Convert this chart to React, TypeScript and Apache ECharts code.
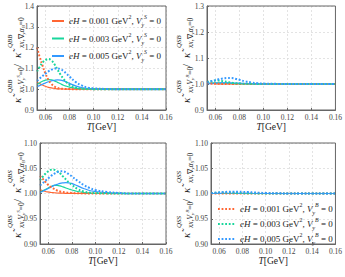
import React, { useEffect, useRef } from "react";
import * as echarts from "echarts";

// Temperature grid (GeV)
const T = [0.053, 0.055, 0.0575, 0.06, 0.0625, 0.065, 0.0675, 0.07, 0.0725, 0.075, 0.0775, 0.08, 0.085, 0.09, 0.095, 0.1, 0.11, 0.12, 0.13, 0.14, 0.15, 0.16];
const X_TICKS = [0.06, 0.08, 0.1, 0.12, 0.14, 0.16];
const EH = ["0.001", "0.003", "0.005"];

// Top-left: QBB
const qbbSolid001 = [1.033, 1.027, 1.02, 1.014, 1.009, 1.006, 1.004, 1.002, 1.0015, 1.001, 1.0005, 1.0003, 1.0001, 1, 1, 1, 1, 1, 1, 1, 1, 1];
const qbbSolid003 = [1.022, 1.03, 1.038, 1.044, 1.046, 1.045, 1.04, 1.033, 1.026, 1.019, 1.014, 1.01, 1.004, 1.0015, 1.0005, 1.0002, 1, 1, 1, 1, 1, 1];
const qbbSolid005 = [1.012, 1.017, 1.024, 1.03, 1.036, 1.04, 1.043, 1.045, 1.044, 1.04, 1.034, 1.028, 1.016, 1.008, 1.004, 1.002, 1.0005, 1, 1, 1, 1, 1];
const qbbDot001 = [1.2, 1.16, 1.115, 1.075, 1.045, 1.025, 1.013, 1.006, 1.003, 1.0015, 1.001, 1.0005, 1.0002, 1, 1, 1, 1, 1, 1, 1, 1, 1];
const qbbDot003 = [1.085, 1.105, 1.127, 1.14, 1.145, 1.138, 1.12, 1.095, 1.07, 1.05, 1.033, 1.021, 1.008, 1.003, 1.001, 1.0003, 1, 1, 1, 1, 1, 1];
const qbbDot005 = [1.04, 1.05, 1.063, 1.075, 1.086, 1.094, 1.099, 1.1, 1.096, 1.087, 1.074, 1.06, 1.035, 1.018, 1.008, 1.004, 1.001, 1, 1, 1, 1, 1];

// Top-right: QSB
const qsbSolid001 = [1.003, 1.002, 1.0015, 1.001, 1.0005, 1.0003, 1.0002, 1.0001, 1, 1, 1, 1, 1, 1, 1, 1, 1, 1, 1, 1, 1, 1];
const qsbSolid003 = [1.002, 1.003, 1.004, 1.0045, 1.0045, 1.004, 1.0035, 1.003, 1.0025, 1.002, 1.0015, 1.001, 1.0005, 1.0002, 1, 1, 1, 1, 1, 1, 1, 1];
const qsbSolid005 = [1.001, 1.0015, 1.002, 1.003, 1.0035, 1.004, 1.0045, 1.0045, 1.0045, 1.004, 1.0035, 1.003, 1.002, 1.001, 1.0005, 1.0002, 1, 1, 1, 1, 1, 1];
const qsbDot001 = [1.006, 1.004, 1.002, 1.001, 1.0005, 1.0002, 1, 1, 1, 1, 1, 1, 1, 1, 1, 1, 1, 1, 1, 1, 1, 1];
const qsbDot003 = [1.008, 1.01, 1.012, 1.013, 1.013, 1.012, 1.01, 1.008, 1.006, 1.004, 1.003, 1.002, 1.001, 1.0005, 1.0002, 1, 1, 1, 1, 1, 1, 1];
const qsbDot005 = [1.006, 1.009, 1.012, 1.015, 1.018, 1.02, 1.022, 1.023, 1.023, 1.022, 1.019, 1.016, 1.01, 1.006, 1.003, 1.0015, 1.0005, 1, 1, 1, 1, 1];

// Bottom-left: QBS
const qbsSolid001 = [1.007, 1.006, 1.004, 1.003, 1.002, 1.0015, 1.001, 1.0008, 1.0005, 1.0003, 1.0002, 1.0001, 1, 1, 1, 1, 1, 1, 1, 1, 1, 1];
const qbsSolid003 = [1.003, 1.005, 1.008, 1.011, 1.014, 1.016, 1.016, 1.015, 1.013, 1.011, 1.009, 1.007, 1.004, 1.002, 1.001, 1.0003, 1, 1, 1, 1, 1, 1];
const qbsSolid005 = [1.002, 1.004, 1.007, 1.01, 1.013, 1.016, 1.018, 1.02, 1.021, 1.0215, 1.021, 1.02, 1.015, 1.01, 1.006, 1.004, 1.0015, 1.0005, 1, 1, 1, 1];
const qbsDot001 = [1.035, 1.03, 1.023, 1.017, 1.012, 1.009, 1.006, 1.004, 1.003, 1.002, 1.0015, 1.001, 1.0005, 1.0002, 1, 1, 1, 1, 1, 1, 1, 1];
const qbsDot003 = [1.026, 1.032, 1.039, 1.044, 1.047, 1.047, 1.044, 1.04, 1.034, 1.028, 1.022, 1.017, 1.009, 1.004, 1.002, 1.001, 1.0003, 1, 1, 1, 1, 1];
const qbsDot005 = [1.016, 1.02, 1.025, 1.03, 1.035, 1.039, 1.042, 1.044, 1.044, 1.042, 1.038, 1.034, 1.025, 1.017, 1.011, 1.007, 1.003, 1.001, 1, 1, 1, 1];

// Bottom-right: QSS
const qssSolid001 = [1, 1, 1, 1, 1, 1, 1, 1, 1, 1, 1, 1, 1, 1, 1, 1, 1, 1, 1, 1, 1, 1];
const qssSolid003 = [1, 1, 1, 1, 1, 1, 1, 1, 1, 1, 1, 1, 1, 1, 1, 1, 1, 1, 1, 1, 1, 1];
const qssSolid005 = [1, 1, 1.0002, 1.0003, 1.0004, 1.0005, 1.0005, 1.0005, 1.0005, 1.0004, 1.0003, 1.0002, 1.0001, 1, 1, 1, 1, 1, 1, 1, 1, 1];
const qssDot001 = [1, 1, 1, 1, 1, 1, 1, 1, 1, 1, 1, 1, 1, 1, 1, 1, 1, 1, 1, 1, 1, 1];
const qssDot003 = [1.001, 1.0012, 1.0015, 1.0018, 1.002, 1.002, 1.002, 1.0018, 1.0015, 1.0012, 1.001, 1.0008, 1.0005, 1.0003, 1.0001, 1, 1, 1, 1, 1, 1, 1];
const qssDot005 = [1.0005, 1.001, 1.0015, 1.002, 1.0025, 1.003, 1.0033, 1.0035, 1.0036, 1.0036, 1.0035, 1.0033, 1.0028, 1.002, 1.0014, 1.001, 1.0004, 1.0001, 1, 1, 1, 1];

const COLORS = ["#ff6633", "#19d69c", "#3399ff"];
const SERIF = "Liberation Serif";

const PANELS = [
  { sup: "QBB", alpha: "B", solid: [qbbSolid001, qbbSolid003, qbbSolid005], dot: [qbbDot001, qbbDot003, qbbDot005], min: 0.9, max: 1.4, interval: 0.1, dec: 1, grid: { left: 37, top: 6, width: 129, height: 104 }, nameX: 17, nameY: 105 },
  { sup: "QSB", alpha: "S", solid: [qsbSolid001, qsbSolid003, qsbSolid005], dot: [qsbDot001, qsbDot003, qsbDot005], min: 0.9, max: 1.3, interval: 0.1, dec: 1, grid: { left: 207, top: 6, width: 129, height: 104 }, nameX: 186, nameY: 105 },
  { sup: "QBS", alpha: "B", solid: [qbsSolid001, qbsSolid003, qbsSolid005], dot: [qbsDot001, qbsDot003, qbsDot005], min: 0.9, max: 1.1, interval: 0.05, dec: 2, grid: { left: 40, top: 143, width: 126, height: 101 }, nameX: 17, nameY: 240 },
  { sup: "QSS", alpha: "S", solid: [qssSolid001, qssSolid003, qssSolid005], dot: [qssDot001, qssDot003, qssDot005], min: 0.9, max: 1.1, interval: 0.05, dec: 2, grid: { left: 211, top: 143, width: 125, height: 101 }, nameX: 186, nameY: 240 },
];

const solidName = (e: string) => `eH = ${e} GeV², V_y^S = 0`;
const dotName = (e: string) => `eH = ${e} GeV², V_y^B = 0`;

const legendRich = (fs: number, lh: number) => ({
  i: { fontFamily: SERIF, fontStyle: "italic", fontSize: fs, lineHeight: lh, color: "#222" },
  n: { fontFamily: SERIF, fontSize: fs, lineHeight: lh, color: "#222" },
  p: { fontFamily: SERIF, fontSize: fs * 0.65, lineHeight: 6, verticalAlign: "top", color: "#222" },
  pi: { fontFamily: SERIF, fontStyle: "italic", fontSize: fs * 0.65, lineHeight: 6, verticalAlign: "top", color: "#222" },
  b: { fontFamily: SERIF, fontStyle: "italic", fontSize: fs * 0.65, lineHeight: 8, verticalAlign: "bottom", color: "#222" },
});

const legendFormatter = (name: string) => {
  const m = name.match(/0\.00\d/);
  const e = m ? m[0] : "";
  const ch = name.includes("^S") ? "S" : "B";
  return `{i|eH}{n| = ${e} GeV}{p|2}{n|, }{i|V}{b|y}{pi|${ch}}{n| = 0}`;
};

function yName(x: number, y: number, sup: string, alpha: string) {
  const txt = (lx: number, ly: number, text: string, size: number, italic: boolean, rich?: any) => ({
    type: "text",
    x: lx,
    y: ly,
    style: {
      text,
      font: `${italic ? "italic " : ""}${size}px ${SERIF}`,
      fill: "#222",
      textAlign: "left",
      textVerticalAlign: "middle",
      align: "left",
      verticalAlign: "middle",
      rich,
    },
  });
  const subRich = {
    t: { fontFamily: SERIF, fontStyle: "italic", fontSize: 7.5, lineHeight: 10, color: "#222" },
    r: { fontFamily: SERIF, fontSize: 7.5, lineHeight: 10, color: "#222" },
    s: { fontFamily: SERIF, fontStyle: "italic", fontSize: 5, lineHeight: 6, verticalAlign: "bottom", color: "#222" },
    u: { fontFamily: SERIF, fontStyle: "italic", fontSize: 5, lineHeight: 5, verticalAlign: "top", color: "#222" },
  };
  return {
    type: "group",
    x,
    y,
    rotation: Math.PI / 2,
    silent: true,
    children: [
      txt(2, 0, "κ̃", 11, true),
      txt(12, -7, sup, 7, true),
      txt(12, 4, `{t|xx,V}{s|y}{u|${alpha === "B" ? "S" : "B"}}{r|=0}`, 7.5, true, subRich),
      txt(38, 0, "/", 11, false),
      txt(47, 0, "κ̃", 11, true),
      txt(57, -7, sup, 7, true),
      txt(57, 4, `{t|xx,}{r|∇}{s|y}{t|α}{s|${alpha}}{r|=0}`, 7.5, true, subRich),
    ],
  };
}

export default function App() {
  const ref = useRef<HTMLDivElement>(null);
  useEffect(() => {
    document.body.style.margin = "0";
    if (!ref.current) return;
    const chart = echarts.init(ref.current, undefined, { renderer: "svg" });

    const grid: any[] = [];
    const xAxis: any[] = [];
    const yAxis: any[] = [];
    const series: any[] = [];
    const graphic: any[] = [];

    PANELS.forEach((p, i) => {
      grid.push({ ...p.grid, show: true, borderColor: "#666", borderWidth: 1, backgroundColor: "transparent", z: 5 });
      xAxis.push({
        type: "value",
        gridIndex: i,
        min: 0.053,
        max: 0.16,
        name: "{i|T}{n|[GeV]}",
        nameLocation: "middle",
        nameGap: 12,
        nameTextStyle: {
          rich: {
            i: { fontFamily: SERIF, fontStyle: "italic", fontSize: 9.5, color: "#222" },
            n: { fontFamily: SERIF, fontSize: 9.5, color: "#222" },
          },
        },
        axisLine: { show: true, lineStyle: { color: "#666", width: 1 } },
        axisTick: { show: true, inside: true, length: 2, customValues: X_TICKS, lineStyle: { color: "#666" } },
        axisLabel: { customValues: X_TICKS, formatter: (v: number) => v.toFixed(2), fontFamily: SERIF, fontSize: 7.5, color: "#444", margin: 3 },
        splitLine: { show: true, lineStyle: { color: "#dcdcdc", type: [2, 2], width: 0.8 } },
      });
      yAxis.push({
        type: "value",
        gridIndex: i,
        min: p.min,
        max: p.max,
        interval: p.interval,
        axisLine: { show: true, lineStyle: { color: "#666", width: 1 } },
        axisTick: { show: true, inside: true, length: 2, lineStyle: { color: "#666" } },
        axisLabel: { formatter: (v: number) => v.toFixed(p.dec), fontFamily: SERIF, fontSize: 7.5, color: "#444", margin: 3 },
        splitLine: { show: true, lineStyle: { color: "#dcdcdc", type: [2, 2], width: 0.8 } },
      });
      p.solid.forEach((arr, k) => {
        series.push({
          type: "line",
          name: solidName(EH[k]),
          xAxisIndex: i,
          yAxisIndex: i,
          data: T.map((t, j) => [t, arr[j]]),
          smooth: 0.4,
          symbol: "none",
          lineStyle: { color: COLORS[k], width: 1.2 },
          itemStyle: { color: COLORS[k] },
          clip: true,
        });
      });
      p.dot.forEach((arr, k) => {
        series.push({
          type: "line",
          name: dotName(EH[k]),
          xAxisIndex: i,
          yAxisIndex: i,
          data: T.map((t, j) => [t, arr[j]]),
          smooth: 0.4,
          symbol: "none",
          lineStyle: { color: COLORS[k], width: 2, type: [1.8, 1.8] },
          itemStyle: { color: COLORS[k] },
          clip: true,
        });
      });
      graphic.push(yName(p.nameX, p.nameY, p.sup, p.alpha));
    });

    chart.setOption({
      animation: false,
      backgroundColor: "#fff",
      grid,
      xAxis,
      yAxis,
      series,
      graphic,
      legend: [
        {
          data: EH.map(solidName),
          orient: "vertical",
          left: 46,
          top: 9,
          itemWidth: 12,
          itemHeight: 8,
          itemGap: 3.5,
          selectedMode: false,
          lineStyle: { width: 2 },
          itemStyle: { opacity: 0 },
          formatter: legendFormatter,
          textStyle: { rich: legendRich(9, 14) },
        },
        {
          data: EH.map(dotName),
          orient: "vertical",
          left: 212,
          top: 197,
          itemWidth: 17,
          itemHeight: 8,
          itemGap: 1,
          selectedMode: false,
          itemStyle: { opacity: 0 },
          formatter: legendFormatter,
          textStyle: { rich: legendRich(9, 14) },
        },
      ],
    });
    return () => chart.dispose();
  }, []);
  return <div ref={ref} style={{ width: 345, height: 277 }} />;
}
